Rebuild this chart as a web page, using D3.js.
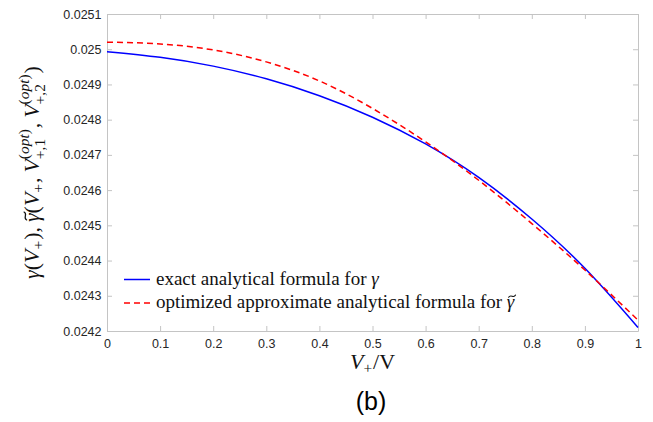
<!DOCTYPE html>
<html><head><meta charset="utf-8">
<script src="https://cdn.jsdelivr.net/npm/d3@7"></script>
<style>body{margin:0;background:#fff}svg{display:block}</style>
</head><body>
<svg id="c" width="653" height="422"></svg>
<script>
// ---- data ----
const vRatio      = [0, 0.1, 0.2, 0.3, 0.4, 0.5, 0.6, 0.7, 0.8, 0.9, 1.0];
const gammaExact  = [0.024993, 0.024977, 0.024952, 0.024916, 0.024868, 0.024807, 0.024731, 0.024636, 0.024518, 0.024378, 0.024210];
const gammaApprox = [0.025020, 0.025015, 0.024998, 0.024964, 0.024910, 0.024832, 0.024737, 0.024628, 0.024505, 0.024373, 0.024231];
const xTicks      = [0, 0.1, 0.2, 0.3, 0.4, 0.5, 0.6, 0.7, 0.8, 0.9, 1];
const xTickLabels = ["0", "0.1", "0.2", "0.3", "0.4", "0.5", "0.6", "0.7", "0.8", "0.9", "1"];
const yTicks      = [0.0242, 0.0243, 0.0244, 0.0245, 0.0246, 0.0247, 0.0248, 0.0249, 0.0250, 0.0251];
const yTickLabels = ["0.0242", "0.0243", "0.0244", "0.0245", "0.0246", "0.0247", "0.0248", "0.0249", "0.025", "0.0251"];
const legendTexts = ["exact analytical formula for ", "optimized approximate analytical formula for "];
const legendSymbols = ["γ", "γ"];
const legendTilde = [false, true];
const seriesColors = ["#0000ff", "#ff0000"];
const panelLabel = "(b)";

// ---- layout ----
const W = 653, H = 422;
const m = {left: 107, right: 15, top: 14, bottom: 91};
const pw = W - m.left - m.right, ph = H - m.top - m.bottom;
const svg = d3.select("#c");
const x = d3.scaleLinear().domain([0, 1]).range([m.left, m.left + pw]);
const y = d3.scaleLinear().domain([0.0242, 0.0251]).range([m.top + ph, m.top]);
const boxColor = "#c4c4c4", textColor = "#262626";
const tickFont = "'Liberation Sans', Arial, Helvetica, sans-serif";
const serif = "'Liberation Serif', 'Times New Roman', serif";

function styleAxis(g) {
  g.select(".domain").attr("stroke", boxColor).attr("stroke-width", 1);
  g.selectAll(".tick line").attr("stroke", boxColor).attr("stroke-width", 1);
  g.selectAll(".tick text").attr("fill", textColor).style("font-family", tickFont).style("font-size", "12.5px");
}
const xb = svg.append("g").attr("transform", `translate(0,${m.top + ph})`)
  .call(d3.axisBottom(x).tickValues(xTicks).tickFormat((d, i) => xTickLabels[i]).tickSizeInner(-5).tickSizeOuter(0).tickPadding(8));
styleAxis(xb);
const xt = svg.append("g").attr("transform", `translate(0,${m.top})`)
  .call(d3.axisTop(x).tickValues(xTicks).tickFormat("").tickSizeInner(-5).tickSizeOuter(0));
styleAxis(xt);
const yl = svg.append("g").attr("transform", `translate(${m.left},0)`)
  .call(d3.axisLeft(y).tickValues(yTicks).tickFormat((d, i) => yTickLabels[i]).tickSizeInner(-5).tickSizeOuter(0).tickPadding(5.5));
styleAxis(yl);
const yr = svg.append("g").attr("transform", `translate(${m.left + pw},0)`)
  .call(d3.axisRight(y).tickValues(yTicks).tickFormat("").tickSizeInner(-5).tickSizeOuter(0));
styleAxis(yr);

// ---- lines ----
const line = d3.line().x((d, i) => x(vRatio[i])).y(d => y(d)).curve(d3.curveNatural);
svg.append("path").datum(gammaExact).attr("d", line).attr("fill", "none")
  .attr("stroke", seriesColors[0]).attr("stroke-width", 1.5);
svg.append("path").datum(gammaApprox).attr("d", line).attr("fill", "none")
  .attr("stroke", seriesColors[1]).attr("stroke-width", 1.5).attr("stroke-dasharray", "6,4");

// tilde accent drawn as a small path centred at (cx, cy)
function tildePath(parent, cx, cy, S) {
  const w = S * 0.36, h = S * 0.06;
  parent.append("path")
    .attr("d", `M${cx - w / 2},${cy + h} C${cx - w / 4},${cy - h * 2.2} ${cx + w / 4},${cy + h * 2.2} ${cx + w / 2},${cy - h}`)
    .attr("fill", "none").attr("stroke", "#111").attr("stroke-width", S * 0.055).attr("stroke-linecap", "round");
}

// ---- legend ----
const legX = 124, legY = [279.5, 303], legS = 19;
legendTexts.forEach((t, i) => {
  svg.append("line").attr("x1", legX).attr("x2", legX + 26).attr("y1", legY[i]).attr("y2", legY[i])
    .attr("stroke", seriesColors[i]).attr("stroke-width", 1.5)
    .attr("stroke-dasharray", i === 1 ? "6,4" : null);
  const tx = svg.append("text").attr("x", legX + 32).attr("y", legY[i] + 5)
    .style("font-family", serif).style("font-size", legS + "px").attr("fill", "#111");
  tx.append("tspan").text(t);
  const gs = tx.append("tspan").style("font-style", "italic").text(legendSymbols[i]);
  if (legendTilde[i]) {
    const total = tx.node().getComputedTextLength();
    const gw = gs.node().getComputedTextLength();
    tildePath(svg, legX + 32 + total - gw / 2 + legS * 0.08, legY[i] + 5 - legS * 0.62, legS);
  }
});

// ---- math label helper ----
function mathLabel(parent, pieces, S) {
  const g = parent.append("g");
  let cx = 0;
  const addText = (size, dy, parts) => {
    const t = g.append("text").attr("x", cx).attr("y", dy)
      .style("font-family", serif).style("font-size", size + "px").attr("fill", "#111");
    parts.forEach(([s, it]) => t.append("tspan").style("font-style", it ? "italic" : "normal").text(s));
    return t;
  };
  pieces.forEach(p => {
    if (p.main !== undefined) {
      const t = addText(S, 0, [[p.main, !!p.it]]);
      const w = t.node().getComputedTextLength();
      if (p.tilde) tildePath(g, cx + w / 2 + S * 0.08, -S * 0.62, S);
      cx += w + (p.space || 0) * S;
    } else {
      let w = 0;
      if (p.sub !== undefined) {
        const t = addText(S * 0.7, p.sup !== undefined ? S * 0.28 : S * 0.2, [[p.sub, false]]);
        w = Math.max(w, t.node().getComputedTextLength());
      }
      if (p.sup !== undefined) {
        const t = addText(S * 0.7, -S * 0.45, p.supParts);
        w = Math.max(w, t.node().getComputedTextLength());
      }
      cx += w + 1;
    }
  });
  return {g, width: cx};
}

// y label
const optSup = {sup: "(opt)", supParts: [["(", false], ["opt", true], [")", false]]};
const yPieces = [
  {main: "γ", it: true}, {main: "("}, {main: "V", it: true}, {sub: "+"}, {main: "),", space: 0.22},
  {main: "γ", it: true, tilde: true}, {main: "("}, {main: "V", it: true}, {sub: "+"}, {main: ",", space: 0.22},
  {main: "V", it: true}, Object.assign({sub: "+,1"}, optSup), {main: ",", space: 0.22},
  {main: "V", it: true}, Object.assign({sub: "+,2"}, optSup), {main: ")"}
];
const yLab = mathLabel(svg, yPieces, 22);
yLab.g.attr("transform", `translate(39,${m.top + ph / 2}) rotate(-90) translate(${-yLab.width / 2},0)`);

// x label
const xPieces = [{main: "V", it: true}, {sub: "+"}, {main: "/V"}];
const xLab = mathLabel(svg, xPieces, 22);
xLab.g.attr("transform", `translate(${m.left + pw / 2 - xLab.width / 2},369)`);

// panel label
svg.append("text").attr("x", 371).attr("y", 410).attr("text-anchor", "middle")
  .style("font-family", tickFont).style("font-size", "25px").attr("fill", "#000").text(panelLabel);
</script>
</body></html>
